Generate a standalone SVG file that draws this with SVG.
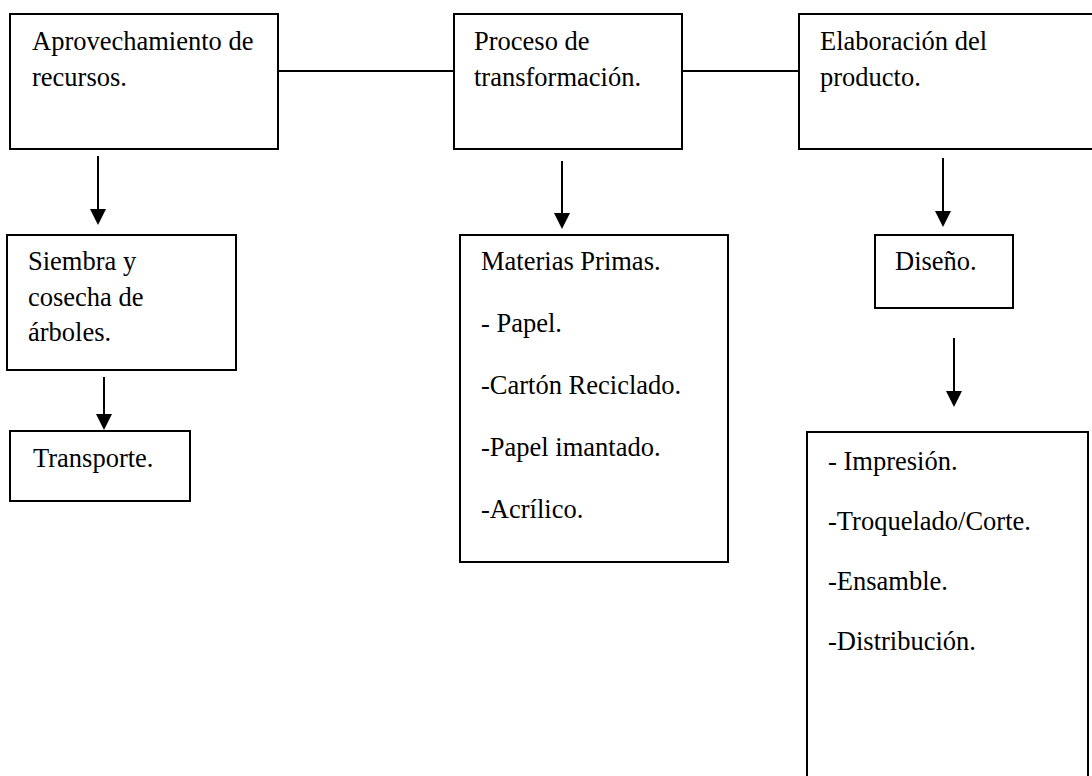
<svg xmlns="http://www.w3.org/2000/svg" width="1092" height="776" viewBox="0 0 1092 776">
<style>
.box{fill:#fff;stroke:#000;stroke-width:2}
.t{font-family:"Liberation Serif","Times New Roman",serif;font-size:26.5px;fill:#000}
.ln{stroke:#000;stroke-width:2;fill:none}
.ar{stroke:#000;stroke-width:2;fill:none;marker-end:url(#ah)}
</style>
<defs>
<marker id="ah" markerUnits="userSpaceOnUse" markerWidth="16" markerHeight="16" refX="12" refY="8" orient="auto" viewBox="0 0 16 16">
<path d="M0,0 L16,8 L0,16 z" fill="#000"/>
</marker>
</defs>
<rect width="1092" height="776" fill="#fff"/>
<g id="connectors">
<line class="ln" x1="278" y1="71" x2="454" y2="71"/>
<line class="ln" x1="682" y1="71" x2="799" y2="71"/>
<line class="ar" x1="98" y1="156" x2="98" y2="221"/>
<line class="ar" x1="104" y1="377" x2="104" y2="426"/>
<line class="ar" x1="562" y1="161" x2="562" y2="225"/>
<line class="ar" x1="943" y1="158" x2="943" y2="223"/>
<line class="ar" x1="954" y1="338" x2="954" y2="403"/>
</g>
<g id="aprovechamiento">
<rect class="box" x="10" y="14" width="268" height="135"/>
<text class="t" x="32" y="50">Aprovechamiento de</text>
<text class="t" x="32" y="86">recursos.</text>
</g>
<g id="proceso">
<rect class="box" x="454" y="14" width="228" height="135"/>
<text class="t" x="474" y="50">Proceso de</text>
<text class="t" x="474" y="86">transformación.</text>
</g>
<g id="elaboracion">
<rect class="box" x="799" y="14" width="310" height="135"/>
<text class="t" x="820" y="50">Elaboración del</text>
<text class="t" x="820" y="86">producto.</text>
</g>
<g id="siembra">
<rect class="box" x="7" y="235" width="229" height="135"/>
<text class="t" x="28" y="270">Siembra y</text>
<text class="t" x="28" y="306">cosecha de</text>
<text class="t" x="28" y="341">árboles.</text>
</g>
<g id="transporte">
<rect class="box" x="10" y="431" width="180" height="70"/>
<text class="t" x="33" y="467">Transporte.</text>
</g>
<g id="materias">
<rect class="box" x="460" y="235" width="268" height="327"/>
<text class="t" x="481" y="270">Materias Primas.</text>
<text class="t" x="481" y="332">- Papel.</text>
<text class="t" x="481" y="394">-Cartón Reciclado.</text>
<text class="t" x="481" y="456">-Papel imantado.</text>
<text class="t" x="481" y="518">-Acrílico.</text>
</g>
<g id="diseno">
<rect class="box" x="875" y="235" width="138" height="73"/>
<text class="t" x="895" y="270">Diseño.</text>
</g>
<g id="procesos">
<rect class="box" x="807" y="432" width="281" height="360"/>
<text class="t" x="828" y="470">- Impresión.</text>
<text class="t" x="828" y="530">-Troquelado/Corte.</text>
<text class="t" x="828" y="590">-Ensamble.</text>
<text class="t" x="828" y="650">-Distribución.</text>
</g>
</svg>
